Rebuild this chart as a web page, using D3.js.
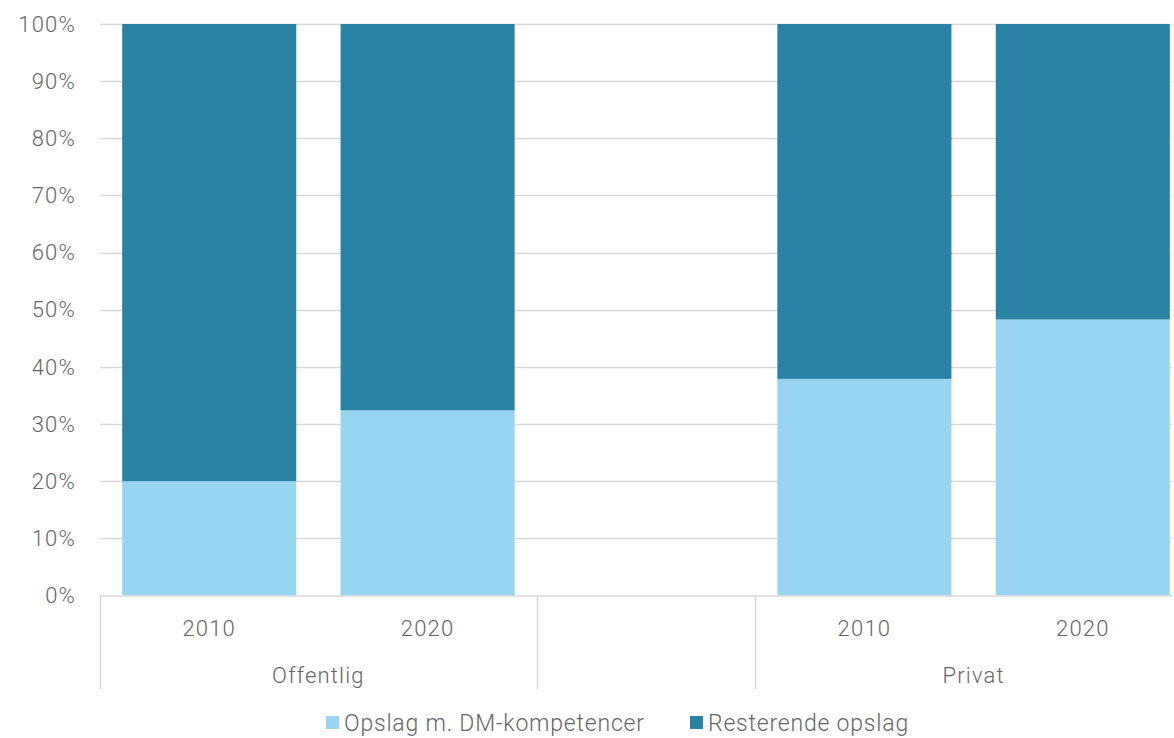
<!DOCTYPE html>
<html>
<head>
<meta charset="utf-8">
<script src="https://cdn.jsdelivr.net/npm/d3@7"></script>
<style>
  html, body { margin: 0; padding: 0; background: #fff; }
  svg { display: block; }
  text { font-family: Roboto, "Open Sans", sans-serif; font-weight: 300; fill: #666666; }
</style>
</head>
<body>
<svg id="chart" width="1174" height="738"></svg>
<script>
// Slots along the x axis; the middle slot is an empty spacer between the two groups
const slots = ["off2010", "off2020", "spacer", "priv2010", "priv2020"];
const years = ["2010", "2020", "", "2010", "2020"];
const groups = [
  { name: "Offentlig", from: 0, to: 1 },
  { name: "Privat", from: 3, to: 4 }
];
// Share of job postings (%)
const dmShare = [20.0, 32.4, null, 37.9, 48.3];
const restShare = [80.0, 67.6, null, 62.1, 51.7];
const seriesNames = ["Opslag m. DM-kompetencer", "Resterende opslag"];
const yTicks = [0, 10, 20, 30, 40, 50, 60, 70, 80, 90, 100];

const colors = ["#97d5f0", "#2a82a4"];
const svg = d3.select("#chart");

const plotLeft = 100, plotTop = 24, plotBottom = 595.5;
const slotStep = 218.4;
const x = d3.scaleBand()
  .domain(slots)
  .range([plotLeft, plotLeft + slotStep * slots.length])
  .paddingInner(0.203)
  .paddingOuter(0.1015);
const y = d3.scaleLinear().domain([0, 100]).range([plotBottom, plotTop]);
const gridRight = 1172;

// Gridlines
svg.append("g").selectAll("line")
  .data(yTicks.filter(d => d > 0))
  .join("line")
  .attr("x1", plotLeft).attr("x2", gridRight)
  .attr("y1", d => Math.round(y(d)) + 0.5).attr("y2", d => Math.round(y(d)) + 0.5)
  .attr("stroke", "#d9d9d9").attr("stroke-width", 1.5);

// Stacked bars
const rows = slots.map((s, i) => ({ slot: s, dm: dmShare[i], rest: restShare[i] }))
  .filter(r => r.dm !== null);
const stack = d3.stack().keys(["dm", "rest"])(rows);
svg.append("g").selectAll("g")
  .data(stack)
  .join("g")
  .attr("fill", (d, i) => colors[i])
  .selectAll("rect")
  .data(d => d)
  .join("rect")
  .attr("x", d => x(d.data.slot))
  .attr("width", x.bandwidth())
  .attr("y", d => y(d[1]))
  .attr("height", d => y(d[0]) - y(d[1]));

// Y axis labels
svg.append("g").selectAll("text")
  .data(yTicks)
  .join("text")
  .attr("x", 76)
  .attr("y", d => y(d))
  .attr("dy", "0.35em")
  .attr("text-anchor", "end")
  .attr("font-size", 22)
  .attr("letter-spacing", 1.2)
  .text(d => d + "%");

// Category axis: baseline, dividers and two label levels
const axis = svg.append("g");
axis.append("line")
  .attr("x1", plotLeft).attr("x2", gridRight)
  .attr("y1", plotBottom + 0.5).attr("y2", plotBottom + 0.5)
  .attr("stroke", "#d9d9d9").attr("stroke-width", 1.5);

const dividers = [0, 2, 3, 5].map(i => plotLeft + slotStep * i);
axis.selectAll("line.div")
  .data(dividers.filter(d => d < 1174))
  .join("line")
  .attr("class", "div")
  .attr("x1", d => Math.round(d) + 0.5).attr("x2", d => Math.round(d) + 0.5)
  .attr("y1", plotBottom).attr("y2", 689)
  .attr("stroke", "#d9d9d9").attr("stroke-width", 1.5);

axis.selectAll("text.year")
  .data(slots.map((s, i) => ({ s, label: years[i] })).filter(d => d.label))
  .join("text")
  .attr("class", "year")
  .attr("x", d => x(d.s) + x.bandwidth() / 2)
  .attr("y", 628)
  .attr("dy", "0.35em")
  .attr("text-anchor", "middle")
  .attr("font-size", 22)
  .attr("letter-spacing", 1.2)
  .text(d => d.label);

axis.selectAll("text.group")
  .data(groups)
  .join("text")
  .attr("class", "group")
  .attr("x", d => (x(slots[d.from]) + x(slots[d.to]) + x.bandwidth()) / 2)
  .attr("y", 675)
  .attr("dy", "0.35em")
  .attr("text-anchor", "middle")
  .attr("font-size", 22)
  .attr("letter-spacing", 1.2)
  .text(d => d.name);

// Legend
const legendX = [326, 690];
const legend = svg.append("g").selectAll("g")
  .data(seriesNames)
  .join("g")
  .attr("transform", (d, i) => `translate(${legendX[i]},716)`);
legend.append("rect")
  .attr("width", 13).attr("height", 13)
  .attr("fill", (d, i) => colors[i]);
legend.append("text")
  .attr("x", 18).attr("y", 7)
  .attr("dy", "0.35em")
  .attr("font-size", 23)
  .attr("letter-spacing", 0.8)
  .text(d => d);
</script>
</body>
</html>
